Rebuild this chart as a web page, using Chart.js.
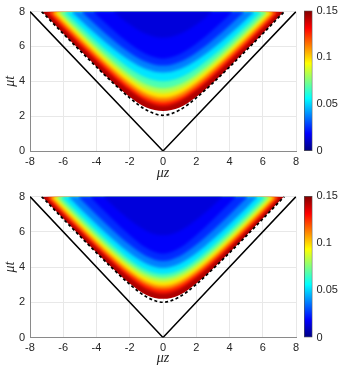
<!DOCTYPE html>
<html>
<head>
<meta charset="utf-8">
<script src="https://cdn.jsdelivr.net/npm/chart.js@4.4.1/dist/chart.umd.min.js"></script>
<style>
  body { margin: 0; background: #fff; }
  #wrap { position: relative; width: 340px; height: 370px; }
  canvas { position: absolute; }
</style>
</head>
<body>
<div id="wrap">
  <canvas id="mapTop" width="340" height="185" style="left:0;top:0"></canvas>
  <canvas id="barTop" width="40" height="185" style="left:300px;top:0"></canvas>
  <canvas id="mapBot" width="340" height="185" style="left:0;top:185px"></canvas>
  <canvas id="barBot" width="40" height="185" style="left:300px;top:185px"></canvas>
</div>
<script>
// axes
const zTicks = [-8, -6, -4, -2, 0, 2, 4, 6, 8];
const tTicks = [0, 2, 4, 6, 8];
const cbarTicks = [0, 0.05, 0.1, 0.15];

// contour levels of the field (value on each contour)
const levels = [0.15, 0.135, 0.12, 0.105, 0.09, 0.075, 0.06, 0.045, 0.03, 0.02, 0.016];
// value shown above each contour (until the next one)
const fillValues = [0.143, 0.1275, 0.1125, 0.0975, 0.0825, 0.0675, 0.0525, 0.0375, 0.025, 0.018, 0.0135];

// columns |mu z| where contour heights were read
const zCols = [0, 1, 2, 3, 4, 5, 6, 7];

// top panel: mu t of each contour at zCols, and |mu z| where it reaches mu t = 8
const topT = [
  [2.30, 2.50, 3.10, 3.92, 4.84, 5.79, 6.75, 7.73],
  [2.60, 2.86, 3.48, 4.28, 5.17, 6.09, 7.04],
  [2.80, 3.05, 3.68, 4.48, 5.36, 6.28, 7.23],
  [3.05, 3.29, 3.90, 4.69, 5.56, 6.48, 7.43],
  [3.30, 3.54, 4.13, 4.90, 5.77, 6.68, 7.62],
  [3.60, 3.82, 4.38, 5.13, 5.98, 6.88, 7.81],
  [4.00, 4.20, 4.74, 5.46, 6.29, 7.17],
  [4.50, 4.69, 5.19, 5.88, 6.68, 7.55],
  [4.90, 5.11, 5.64, 6.37, 7.20],
  [5.30, 5.55, 6.15, 6.94, 7.82],
  [6.50, 6.71, 7.26]
];
const topEdge = [7.27, 7.0, 6.8, 6.6, 6.4, 6.2, 5.9, 5.5, 4.9, 4.2, 3.0];

// bottom panel
const botT = [
  [2.20, 2.42, 3.07, 3.91, 4.83, 5.78, 6.75, 7.73],
  [2.50, 2.76, 3.40, 4.21, 5.11, 6.04, 6.99, 7.95],
  [2.72, 2.97, 3.59, 4.39, 5.27, 6.19, 7.14],
  [2.92, 3.17, 3.78, 4.57, 5.45, 6.37, 7.31],
  [3.15, 3.39, 3.98, 4.76, 5.62, 6.54, 7.48],
  [3.37, 3.60, 4.19, 4.96, 5.82, 6.73, 7.67],
  [3.60, 3.83, 4.42, 5.19, 6.06, 6.97, 7.91],
  [3.95, 4.19, 4.78, 5.56, 6.43, 7.34],
  [4.35, 4.62, 5.26, 6.08, 6.97, 7.91],
  [4.75, 5.08, 5.81, 6.69, 7.62],
  [5.80, 6.05, 6.68, 7.48]
];
const botEdge = [7.27, 7.05, 6.9, 6.72, 6.55, 6.35, 6.1, 5.7, 5.1, 4.4, 3.6];

// dashed curve
const topDash = [2.05, 2.35, 3.05, 3.90, 4.82, 5.77, 6.73, 7.71];
const topDashEdge = 7.3;
const botDash = [2.00, 2.31, 3.02, 3.89, 4.81, 5.76, 6.73, 7.71];
const botDashEdge = 7.3;

// light cone
const coneZ = [-8, 0, 8];
const coneT = [8, 0, 8];

const vMax = 0.15;

function jet(v) {
  const x = Math.max(0, Math.min(1, v / vMax));
  const c = f => Math.round(255 * Math.max(0, Math.min(1, f)));
  const r = c(Math.min(4 * x - 1.5, -4 * x + 4.5));
  const g = c(Math.min(4 * x - 0.5, -4 * x + 3.5));
  const b = c(Math.min(4 * x + 0.5, -4 * x + 2.5));
  return `rgb(${r},${g},${b})`;
}

// symmetric curve from the half read at zCols
function curve(ts, edge) {
  const pts = [{ x: -edge, y: 8 }];
  for (let i = ts.length - 1; i >= 1; i--) pts.push({ x: -zCols[i], y: ts[i] });
  for (let i = 0; i < ts.length; i++) pts.push({ x: zCols[i], y: ts[i] });
  pts.push({ x: edge, y: 8 });
  return pts;
}

// soften the steps between the inner colour bands (the outer edge stays sharp)
const softBands = {
  id: 'softBands',
  beforeDatasetsDraw: chart => { chart.ctx.filter = 'none'; },
  afterDatasetDraw: (chart, args) => {
    const n = chart.options.plugins.softBands.bands;
    if (args.index === 0) chart.ctx.filter = 'blur(1.6px)';
    if (args.index === n - 1) chart.ctx.filter = 'none';
  },
  afterDatasetsDraw: chart => { chart.ctx.filter = 'none'; }
};

const tickFont = { family: 'Liberation Sans, Arial, sans-serif', size: 11 };
const titleFont = { family: 'Liberation Serif, Times New Roman, serif', size: 14, style: 'italic' };

function drawMap(id, tRows, edges, dash, dashEdge, topPad, xH) {
  const datasets = [];
  tRows.forEach((ts, i) => {
    datasets.push({
      data: curve(ts, edges[i]),
      backgroundColor: jet(fillValues[i]),
      borderWidth: 0,
      pointRadius: 0,
      fill: 'end',
      cubicInterpolationMode: 'monotone',
      order: tRows.length + 2 - i
    });
  });
  datasets.push({
    data: curve(dash, dashEdge),
    borderColor: '#000',
    borderWidth: 1.7,
    borderDash: [3, 2.5],
    pointRadius: 0,
    fill: false,
    cubicInterpolationMode: 'monotone',
    order: 1
  });
  datasets.push({
    data: coneZ.map((z, i) => ({ x: z, y: coneT[i] })),
    borderColor: '#000',
    borderWidth: 1.5,
    pointRadius: 0,
    fill: false,
    tension: 0,
    order: 0
  });

  new Chart(document.getElementById(id), {
    type: 'line',
    data: { datasets },
    plugins: [softBands],
    options: {
      responsive: false,
      animation: false,
      events: [],
      layout: { padding: { left: 0, right: 44, top: topPad, bottom: 3 } },
      plugins: {
        legend: { display: false },
        tooltip: { enabled: false },
        softBands: { bands: tRows.length }
      },
      scales: {
        x: {
          type: 'linear', min: -8, max: 8,
          afterBuildTicks: s => { s.ticks = zTicks.map(v => ({ value: v })); },
          afterFit: s => { s.height = xH; },
          grid: { color: '#e8e8e8', drawTicks: false },
          border: { color: '#8a8a8a' },
          ticks: { font: tickFont, color: '#262626', padding: 4, maxRotation: 0 },
          title: { display: true, text: 'μz', font: titleFont, color: '#262626', padding: 0 }
        },
        y: {
          type: 'linear', min: 0, max: 8,
          afterBuildTicks: s => { s.ticks = tTicks.map(v => ({ value: v })); },
          afterFit: s => { s.width = 30; },
          grid: { color: '#e8e8e8', drawTicks: false },
          border: { color: '#8a8a8a' },
          ticks: { font: tickFont, color: '#262626', padding: 5 },
          title: { display: true, text: 'μt', font: titleFont, color: '#262626', padding: { top: 2, bottom: 2 } }
        }
      }
    }
  });
}

function drawBar(id, topPad, bottomPad) {
  new Chart(document.getElementById(id), {
    type: 'bar',
    data: {
      labels: [''],
      datasets: [{
        data: [[cbarTicks[0], cbarTicks[cbarTicks.length - 1]]],
        backgroundColor: ctx => {
          const a = ctx.chart.chartArea;
          if (!a) return '#00f';
          const g = ctx.chart.ctx.createLinearGradient(0, a.bottom, 0, a.top);
          [[0, 'rgb(0,0,128)'], [0.125, 'rgb(0,0,255)'], [0.375, 'rgb(0,255,255)'],
           [0.625, 'rgb(255,255,0)'], [0.875, 'rgb(255,0,0)'], [1, 'rgb(128,0,0)']]
            .forEach(([p, c]) => g.addColorStop(p, c));
          return g;
        },
        borderColor: '#555',
        borderWidth: 1,
        borderSkipped: false,
        barPercentage: 1,
        categoryPercentage: 1
      }]
    },
    options: {
      responsive: false,
      animation: false,
      events: [],
      layout: { padding: { left: 4, right: 0, top: topPad, bottom: bottomPad } },
      plugins: { legend: { display: false }, tooltip: { enabled: false } },
      scales: {
        x: { display: false },
        y: {
          position: 'right', min: 0, max: vMax,
          afterBuildTicks: s => { s.ticks = cbarTicks.map(v => ({ value: v })); },
          afterFit: s => { s.width = 27.5; },
          grid: { display: false, drawTicks: false },
          border: { display: false },
          ticks: { font: tickFont, color: '#262626', padding: 4,
                   callback: v => String(+v.toFixed(2)) }
        }
      }
    }
  });
}

drawMap('mapTop', topT, topEdge, topDash, topDashEdge, 10, 31);
drawBar('barTop', 10, 34);
drawMap('mapBot', botT, botEdge, botDash, botDashEdge, 11, 29.5);
drawBar('barBot', 11, 32.5);
</script>
</body>
</html>
